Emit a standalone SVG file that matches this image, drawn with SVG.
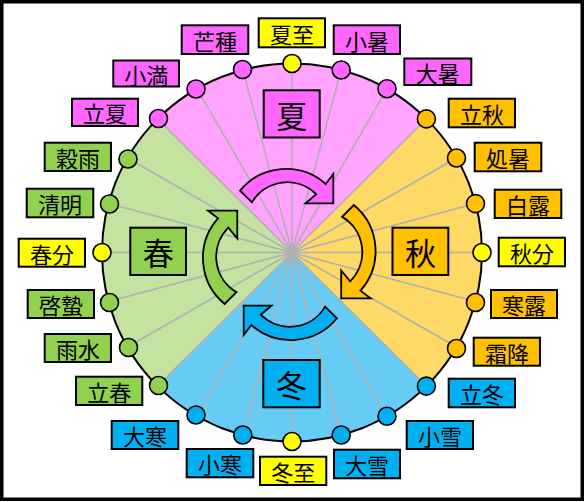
<svg xmlns="http://www.w3.org/2000/svg" width="585" height="502" viewBox="0 0 585 502">
<style>
.lbl rect{stroke:#000;stroke-width:2}
.lbl text{font-family:"Noto Sans CJK JP","Noto Sans CJK SC",sans-serif;font-size:22px;fill:#000;text-anchor:middle;dominant-baseline:central}
.season rect{stroke:#000;stroke-width:2}
.season text{font-family:"Noto Sans CJK JP","Noto Sans CJK SC",sans-serif;font-size:31px;fill:#000;text-anchor:middle;dominant-baseline:central}
.dot{stroke:#000;stroke-width:1.6}
.spoke{stroke:#B0B0B0;stroke-width:1.6}
.arrow{stroke:#000;stroke-width:1.8;stroke-linejoin:miter}
.pk{fill:#FF66FF}.yl{fill:#FFFF00}.or{fill:#FFC000}.bl{fill:#00B0F0}.gr{fill:#92D050}
</style>
<defs>
<path id="arr" d="M -49 -63.3 A 59.7 59.7 0 0 1 36.7 -70 L 44.3 -80 L 44.3 -50.7 L 16.5 -50.7 L 27.3 -59.7 A 41 41 0 0 0 -37.1 -51.6 Z"/>
</defs>
<rect x="1.75" y="1.75" width="580.5" height="497.5" fill="#fff" stroke="#000" stroke-width="3.5"/>
<g id="sectors">
<path d="M292 252.5 L157.6 118.9 A190 189 0 0 1 426.4 118.9 Z" fill="#FFA3FF"/>
<path d="M292 252.5 L426.4 118.9 A190 189 0 0 1 426.4 386.1 Z" fill="#FFD966"/>
<path d="M292 252.5 L426.4 386.1 A190 189 0 0 1 157.6 386.1 Z" fill="#66CCF5"/>
<path d="M292 252.5 L157.6 386.1 A190 189 0 0 1 157.6 118.9 Z" fill="#C4E2A0"/>
</g>
<g id="connectors">
<line class="spoke" x1="292" y1="252.5" x2="292" y2="63.5"/>
<line class="spoke" x1="292" y1="252.5" x2="341.2" y2="70"/>
<line class="spoke" x1="292" y1="252.5" x2="387" y2="88.8"/>
<line class="spoke" x1="292" y1="252.5" x2="426.4" y2="118.9"/>
<line class="spoke" x1="292" y1="252.5" x2="456.5" y2="158"/>
<line class="spoke" x1="292" y1="252.5" x2="475.5" y2="203.6"/>
<line class="spoke" x1="292" y1="252.5" x2="482" y2="252.5"/>
<line class="spoke" x1="292" y1="252.5" x2="475.5" y2="301.4"/>
<line class="spoke" x1="292" y1="252.5" x2="456.5" y2="347"/>
<line class="spoke" x1="292" y1="252.5" x2="426.4" y2="386.1"/>
<line class="spoke" x1="292" y1="252.5" x2="387" y2="416.2"/>
<line class="spoke" x1="292" y1="252.5" x2="341.2" y2="435"/>
<line class="spoke" x1="292" y1="252.5" x2="292" y2="441.5"/>
<line class="spoke" x1="292" y1="252.5" x2="242.8" y2="435"/>
<line class="spoke" x1="292" y1="252.5" x2="197" y2="416.2"/>
<line class="spoke" x1="292" y1="252.5" x2="157.6" y2="386.1"/>
<line class="spoke" x1="292" y1="252.5" x2="127.5" y2="347"/>
<line class="spoke" x1="292" y1="252.5" x2="108.5" y2="301.4"/>
<line class="spoke" x1="292" y1="252.5" x2="102" y2="252.5"/>
<line class="spoke" x1="292" y1="252.5" x2="108.5" y2="203.6"/>
<line class="spoke" x1="292" y1="252.5" x2="127.5" y2="158"/>
<line class="spoke" x1="292" y1="252.5" x2="157.6" y2="118.9"/>
<line class="spoke" x1="292" y1="252.5" x2="197" y2="88.8"/>
<line class="spoke" x1="292" y1="252.5" x2="242.8" y2="70"/>
</g>
<ellipse id="ring" cx="292" cy="252.5" rx="190" ry="189" fill="none" stroke="#000" stroke-width="2"/>
<g id="arrows">
<use href="#arr" class="arrow pk" transform="translate(289 254)"/>
<use href="#arr" class="arrow or" transform="translate(290.5 254) rotate(90)"/>
<use href="#arr" class="arrow bl" transform="translate(288 255) rotate(180)"/>
<use href="#arr" class="arrow gr" transform="translate(288 255) rotate(270)"/>
</g>
<g id="season-summer" class="season"><rect class="pk" x="263.7" y="90.3" width="56" height="47.2"/><text x="291.7" y="114">夏</text></g>
<g id="season-autumn" class="season"><rect class="or" x="392.5" y="227.7" width="55.8" height="47.3"/><text x="420.4" y="251.4">秋</text></g>
<g id="season-winter" class="season"><rect class="bl" x="263.3" y="360" width="56.4" height="47.3"/><text x="291.5" y="383.7">冬</text></g>
<g id="season-spring" class="season"><rect class="gr" x="130.3" y="227.7" width="55.7" height="47.3"/><text x="158.2" y="251.4">春</text></g>
<g id="t00" class="lbl"><circle class="dot yl" cx="292" cy="63.5" r="9"/><rect class="yl" x="258.7" y="18.3" width="66.3" height="29"/><text x="291.9" y="32.8">夏至</text></g>
<g id="t01" class="lbl"><circle class="dot pk" cx="341.2" cy="70" r="9"/><rect class="pk" x="333.7" y="25.3" width="66.3" height="28.7"/><text x="366.9" y="39.7">小暑</text></g>
<g id="t02" class="lbl"><circle class="dot pk" cx="387" cy="88.8" r="9"/><rect class="pk" x="404.3" y="58.5" width="67" height="26.5"/><text x="437.8" y="71.8">大暑</text></g>
<g id="t03" class="lbl"><circle class="dot or" cx="426.4" cy="118.9" r="9"/><rect class="or" x="448.7" y="98.7" width="66.3" height="28.6"/><text x="481.9" y="113">立秋</text></g>
<g id="t04" class="lbl"><circle class="dot or" cx="456.5" cy="158" r="9"/><rect class="or" x="474.7" y="142.7" width="66.6" height="28.6"/><text x="508" y="157">処暑</text></g>
<g id="t05" class="lbl"><circle class="dot or" cx="475.5" cy="203.6" r="9"/><rect class="or" x="494.7" y="189.7" width="66.6" height="28.3"/><text x="528" y="203.9">白露</text></g>
<g id="t06" class="lbl"><circle class="dot yl" cx="482" cy="252.5" r="9"/><rect class="yl" x="498.7" y="237.7" width="66.3" height="28.6"/><text x="531.9" y="252">秋分</text></g>
<g id="t07" class="lbl"><circle class="dot or" cx="475.5" cy="302.5" r="9"/><rect class="or" x="491" y="290" width="66" height="28"/><text x="524" y="304">寒露</text></g>
<g id="t08" class="lbl"><circle class="dot or" cx="456.5" cy="348.5" r="9"/><rect class="or" x="473.7" y="337.7" width="66.3" height="28"/><text x="506.9" y="351.7">霜降</text></g>
<g id="t09" class="lbl"><circle class="dot bl" cx="426.4" cy="386.1" r="9"/><rect class="bl" x="448.7" y="378.7" width="66.3" height="28.6"/><text x="481.9" y="393">立冬</text></g>
<g id="t10" class="lbl"><circle class="dot bl" cx="387" cy="416.2" r="9"/><rect class="bl" x="406.7" y="421" width="66.3" height="28"/><text x="439.9" y="435">小雪</text></g>
<g id="t11" class="lbl"><circle class="dot bl" cx="341.2" cy="435" r="9"/><rect class="bl" x="334" y="449.7" width="66" height="28.6"/><text x="367" y="464">大雪</text></g>
<g id="t12" class="lbl"><circle class="dot yl" cx="292" cy="441.5" r="9"/><rect class="yl" x="260" y="456.7" width="66.3" height="28.3"/><text x="293.2" y="470.9">冬至</text></g>
<g id="t13" class="lbl"><circle class="dot bl" cx="242.8" cy="435" r="9"/><rect class="bl" x="186.7" y="449" width="66.6" height="28.3"/><text x="220" y="463.2">小寒</text></g>
<g id="t14" class="lbl"><circle class="dot bl" cx="196" cy="415" r="9"/><rect class="bl" x="111.7" y="421" width="66.6" height="28"/><text x="145" y="435">大寒</text></g>
<g id="t15" class="lbl"><circle class="dot gr" cx="158.5" cy="385.5" r="9"/><rect class="gr" x="76" y="376.7" width="66.3" height="28.3"/><text x="109.2" y="390.9">立春</text></g>
<g id="t16" class="lbl"><circle class="dot gr" cx="128.5" cy="347.5" r="9"/><rect class="gr" x="44.7" y="334" width="66.3" height="28"/><text x="77.9" y="348">雨水</text></g>
<g id="t17" class="lbl"><circle class="dot gr" cx="109.5" cy="302.5" r="9"/><rect class="gr" x="27.7" y="290" width="66.3" height="28"/><text x="60.9" y="304">啓蟄</text></g>
<g id="t18" class="lbl"><circle class="dot yl" cx="102" cy="252.5" r="9"/><rect class="yl" x="18.7" y="238.7" width="66.3" height="28"/><text x="51.9" y="252.7">春分</text></g>
<g id="t19" class="lbl"><circle class="dot gr" cx="109.5" cy="204" r="9"/><rect class="gr" x="26.7" y="188.7" width="66.6" height="28.6"/><text x="60" y="203">清明</text></g>
<g id="t20" class="lbl"><circle class="dot gr" cx="128" cy="159" r="9"/><rect class="gr" x="44.7" y="142.7" width="66.3" height="28.3"/><text x="77.9" y="156.9">穀雨</text></g>
<g id="t21" class="lbl"><circle class="dot pk" cx="158.5" cy="118.5" r="9"/><rect class="pk" x="72" y="98.7" width="66" height="27.3"/><text x="105" y="112.4">立夏</text></g>
<g id="t22" class="lbl"><circle class="dot pk" cx="196" cy="89" r="9"/><rect class="pk" x="113.3" y="60.5" width="65.7" height="26"/><text x="146.2" y="73.5">小満</text></g>
<g id="t23" class="lbl"><circle class="dot pk" cx="242.5" cy="69.5" r="9"/><rect class="pk" x="181.7" y="25.3" width="66.6" height="28.7"/><text x="215" y="39.7">芒種</text></g>
</svg>
